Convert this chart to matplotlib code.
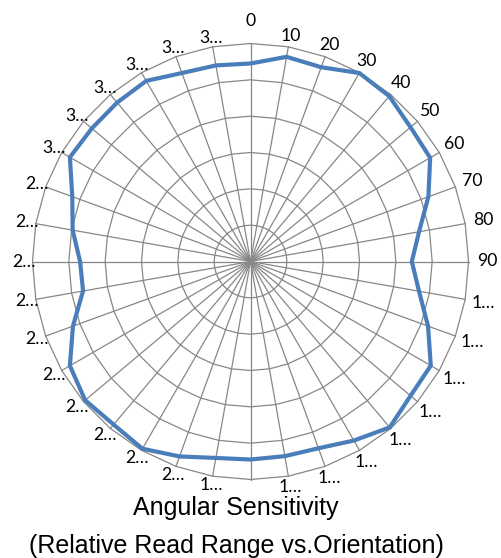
import numpy as np
import matplotlib.pyplot as plt

# orientation (degrees) and relative read range, one value per 10 degrees
angles = list(range(0, 360, 10))
read_range = [5.45, 5.72, 5.69, 5.99, 5.94, 5.75, 5.71, 5.21, 4.71, 4.44,
              4.71, 5.20, 5.73, 5.75, 5.96, 5.69, 5.47, 5.44, 5.45, 5.49,
              5.71, 5.95, 5.86, 5.94, 5.74, 5.20, 4.68, 4.69, 4.97, 5.22,
              5.74, 5.70, 5.71, 5.74, 5.52, 5.48]
# Excel truncates the long category labels (and hides the one at 180)
tick_labels = [str(a) if a < 100 else str(a)[0] + "\u2026" for a in angles]
tick_labels[18] = ""
ring_values = [1, 2, 3, 4, 5, 6]
r_max = 6

W, H = 501, 558
fig = plt.figure(figsize=(W / 100, H / 100), dpi=100)

# square axes centred on the chart centre
cx, cy, half = 250.5, 261.5, 240
R_px = 218.0
ax = fig.add_axes([(cx - half) / W, (H - cy - half) / H, 2 * half / W, 2 * half / H])
lim = r_max * half / R_px
ax.set_xlim(-lim, lim)
ax.set_ylim(-lim, lim)
ax.set_aspect("equal")
ax.axis("off")

theta = np.deg2rad(np.array(angles, dtype=float))
sx, sy = np.sin(theta), np.cos(theta)

grid_col = "#878787"
for r in ring_values:
    ax.fill(r * sx, r * sy, fill=False, edgecolor=grid_col, lw=0.9, zorder=1)
for x, y in zip(sx, sy):
    ax.plot([0, r_max * x], [0, r_max * y], color=grid_col, lw=0.9, zorder=1)

vals = np.array(read_range)
ax.fill(vals * sx, vals * sy, fill=False, edgecolor="#4A7EBB", lw=3.0,
        joinstyle="miter", zorder=3)

px = r_max / R_px
for a, lab, x, y in zip(angles, tick_labels, sx, sy):
    if not lab:
        continue
    rr = 227 + 10 * max(x, 0)
    if a == 0:
        rr += 14
    rr *= px
    ax.text(rr * x, rr * y, lab, ha="center", va="center", fontsize=12.7,
            family=["Lato", "DejaVu Sans"], color="#000000")

fig.text(236 / W, 1 - 515 / H, "Angular Sensitivity", ha="center", va="baseline",
         fontsize=18, family="Liberation Sans")
fig.text(236 / W, 1 - 553 / H, "(Relative Read Range vs.Orientation)", ha="center",
         va="baseline", fontsize=18, family="Liberation Sans")

fig.savefig("out.png", dpi=100)
